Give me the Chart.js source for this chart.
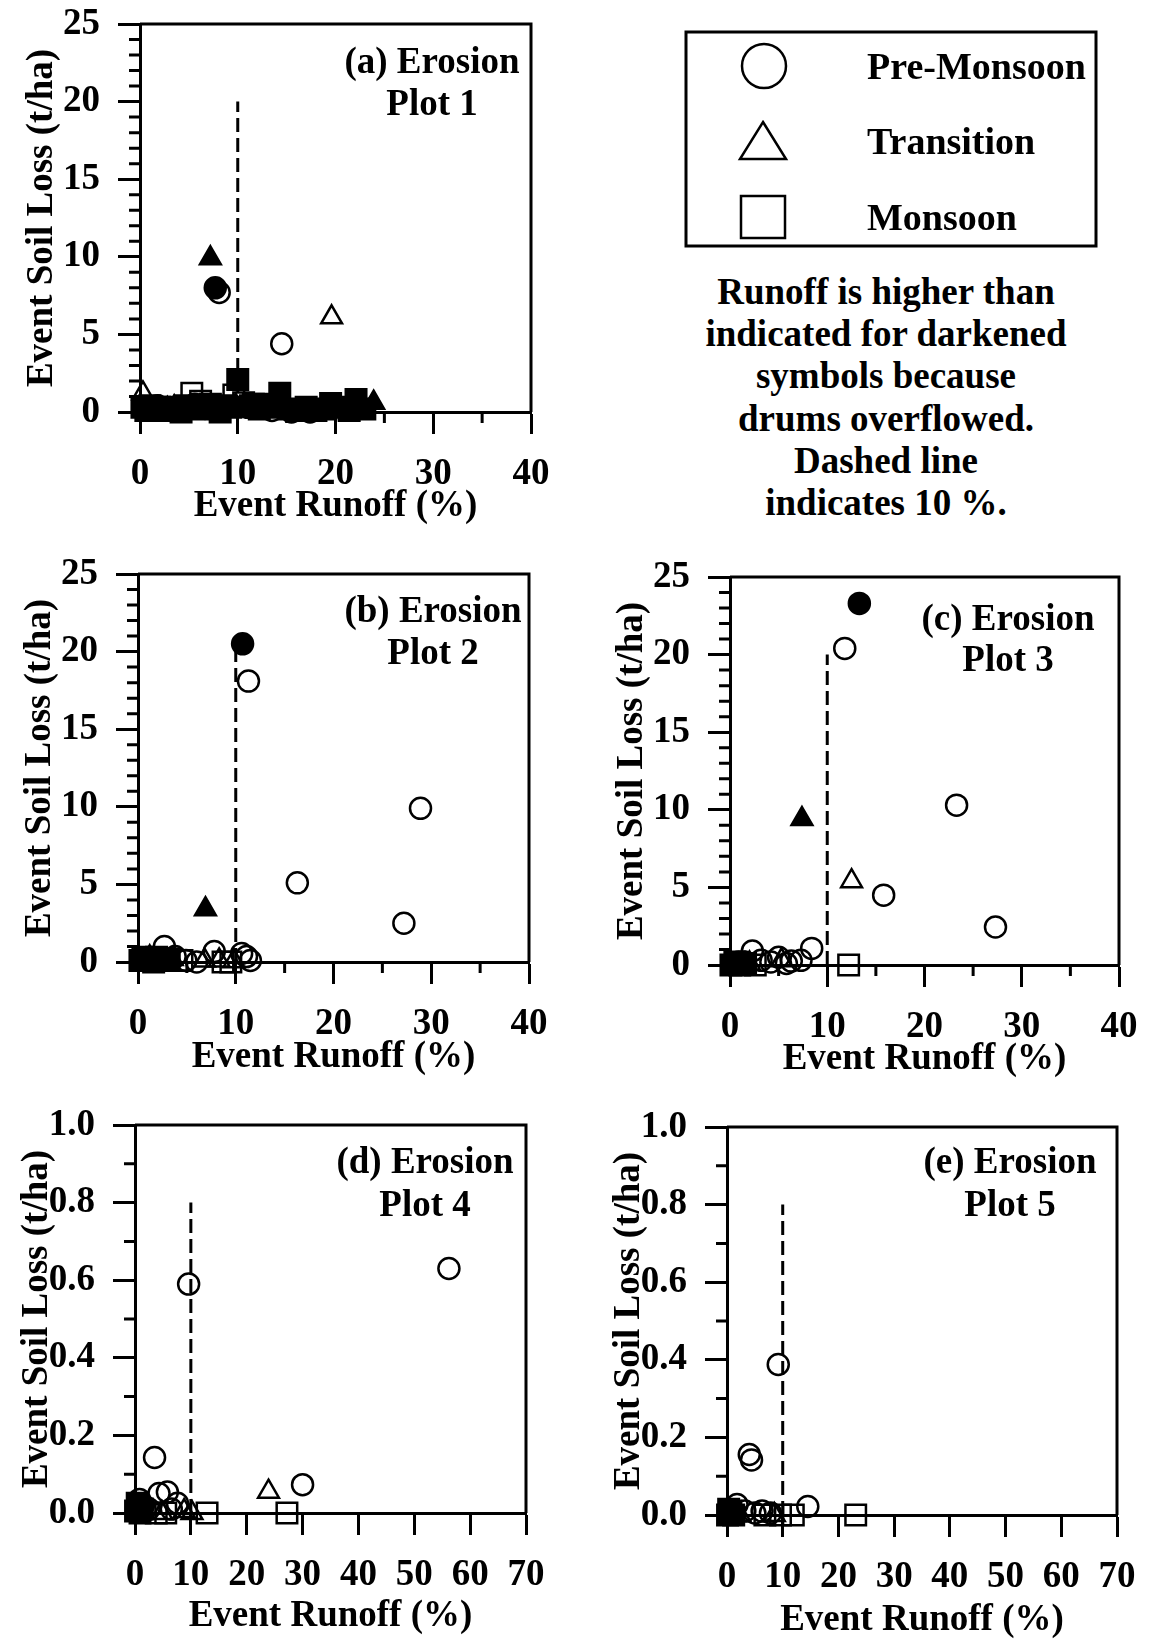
<!DOCTYPE html>
<html>
<head>
<meta charset="utf-8">
<title>Event soil loss vs event runoff</title>
<script src="https://cdn.jsdelivr.net/npm/chart.js@4.4.1/dist/chart.umd.min.js"></script>
<style>
  html, body { margin: 0; padding: 0; background: #fff; }
  body {
    position: relative; width: 1155px; height: 1640px; overflow: hidden;
    font-family: 'Liberation Serif', 'Times New Roman', serif; font-weight: bold; color: #000;
  }
  canvas { position: absolute; }
  .legend-text { position: absolute; left: 867px; font-size: 38px; line-height: 42px; white-space: nowrap; }
  #note {
    position: absolute; left: 686px; top: 271px; width: 400px;
    font-size: 37px; line-height: 42.2px; text-align: center; white-space: nowrap;
  }
</style>
</head>
<body>
<canvas id="plot1"></canvas>
<canvas id="plot2"></canvas>
<canvas id="plot3"></canvas>
<canvas id="plot4"></canvas>
<canvas id="plot5"></canvas>

<svg width="1155" height="260" style="position:absolute;left:0;top:0">
  <rect x="686" y="32" width="410" height="214" fill="none" stroke="#000" stroke-width="3"/>
  <circle cx="764" cy="66" r="22" fill="none" stroke="#000" stroke-width="2.5"/>
  <polygon points="763,122 786,159 740,159" fill="none" stroke="#000" stroke-width="2.5"/>
  <rect x="741" y="196" width="44" height="42" fill="none" stroke="#000" stroke-width="2.5"/>
</svg>
<div class="legend-text" style="top:45px">Pre-Monsoon</div>
<div class="legend-text" style="top:120px">Transition</div>
<div class="legend-text" style="top:196px">Monsoon</div>

<div id="note">Runoff is higher than<br>indicated for darkened<br>symbols because<br>drums overflowed.<br>Dashed line<br>indicates 10 %.</div>

<script>
// axis ticks
const soilMajorHigh = [0, 5, 10, 15, 20, 25];
const soilMinorHigh = [1, 2, 3, 4, 6, 7, 8, 9, 11, 12, 13, 14, 16, 17, 18, 19, 21, 22, 23, 24];
const soilMajorLow = [0, 0.2, 0.4, 0.6, 0.8, 1.0];
const soilMinorLow = [0.1, 0.3, 0.5, 0.7, 0.9];
const runoffMajorShort = [0, 10, 20, 30, 40];
const runoffMinorShort = [5, 15, 25, 35];
const runoffMajorLong = [0, 10, 20, 30, 40, 50, 60, 70];
const runoffMinorLong = [];

const thresholdRunoff = 10;
const dashTopHigh = 20;
const dashTopLow = 0.8;

// [runoff %, soil loss t/ha]; "Dark" = drums overflowed
const plot1PreOpen = [[14.5, 4.4], [8.1, 7.7], [0.5, 0.2], [1.8, 0.4], [5.6, 0.5], [11.0, 0.3], [13.5, 0.1], [15.5, 0.0], [17.4, 0.0]];
const plot1PreDark = [[7.7, 8.0]];
const plot1TransOpen = [[19.6, 6.1], [0.3, 1.2], [2.8, 0.2], [9.8, 0.4]];
const plot1TransDark = [[7.2, 9.9], [23.9, 0.6], [3.5, 0.3]];
const plot1MonOpen = [[5.3, 1.2], [6.2, 0.7], [9.6, 1.1], [10.6, 0.6], [11.6, 0.5], [16.2, 0.1], [16.9, 0.1], [7.2, 0.5]];
const plot1MonDark = [[10.0, 2.1], [14.3, 1.2], [22.1, 0.8], [19.5, 0.55], [0.2, 0.3], [0.6, 0.1], [1.0, 0.4], [1.5, 0.2],
  [2.0, 0.3], [2.6, 0.1], [3.2, 0.3], [3.9, 0.2], [4.6, 0.4], [5.5, 0.2], [6.3, 0.4], [7.0, 0.3], [7.8, 0.2], [8.6, 0.4],
  [9.3, 0.3], [11.3, 0.4], [12.2, 0.2], [13.0, 0.3], [15.2, 0.2], [16.0, 0.1], [18.0, 0.1], [20.6, 0.3], [21.4, 0.1], [23.0, 0.2],
  [4.2, 0.0], [8.2, 0.0], [12.6, 0.5], [17.0, 0.3], [19.0, 0.2]];

const plot2PreOpen = [[11.3, 18.1], [28.9, 9.9], [16.3, 5.1], [27.2, 2.5], [2.7, 1.0], [7.8, 0.67], [11.1, 0.35], [11.5, 0.1],
  [10.6, 0.55], [3.8, 0.35], [4.9, 0.1], [6.0, 0.0], [2.2, 0.2], [1.0, 0.1]];
const plot2PreDark = [[10.7, 20.5], [0.9, 0.2], [2.0, 0.1]];
const plot2TransOpen = [[8.3, 0.1], [9.8, 0.05], [3.5, 0.2], [6.8, 0.1]];
const plot2TransDark = [[6.9, 3.4], [1.2, 0.3]];
const plot2MonOpen = [[0.5, 0.3], [1.6, 0.0], [4.5, 0.1], [8.7, 0.0], [9.5, 0.0]];
const plot2MonDark = [[0.2, 0.1], [0.7, 0.2], [1.3, 0.1], [1.9, 0.3], [2.4, 0.1], [3.2, 0.2]];

const plot3PreOpen = [[11.8, 20.4], [23.3, 10.3], [15.8, 4.5], [27.3, 2.45], [8.4, 1.07], [2.3, 0.9], [5.0, 0.5], [6.3, 0.25],
  [7.3, 0.3], [3.2, 0.3], [1.5, 0.2], [4.2, 0.2], [5.8, 0.1]];
const plot3PreDark = [[13.3, 23.3], [0.3, 0.1], [0.9, 0.2]];
const plot3TransOpen = [[12.5, 5.4], [5.3, 0.3], [2.0, 0.1]];
const plot3TransDark = [[7.4, 9.4], [1.2, 0.1]];
const plot3MonOpen = [[12.2, 0.0], [0.6, 0.1], [2.6, 0.0]];
const plot3MonDark = [[0.1, 0.0], [0.5, 0.2], [1.0, 0.0], [1.6, 0.1]];

const plot4PreOpen = [[56.2, 0.63], [9.6, 0.59], [3.5, 0.143], [30.0, 0.073], [4.3, 0.05], [5.8, 0.054], [7.6, 0.025],
  [0.8, 0.035], [1.5, 0.02], [6.5, 0.01], [2.5, 0.01]];
const plot4PreDark = [[0.3, 0.01], [0.6, 0.02]];
const plot4TransOpen = [[23.9, 0.055], [8.8, 0.005], [10.2, 0.0], [4.8, 0.0]];
const plot4TransDark = [[0.5, 0.0]];
const plot4MonOpen = [[27.2, 0.0], [12.9, 0.0], [3.8, 0.0], [5.5, 0.0]];
const plot4MonDark = [[0.1, 0.005], [0.9, 0.0], [1.3, 0.01], [0.4, 0.025]];

const plot5PreOpen = [[9.2, 0.388], [4.0, 0.156], [4.4, 0.142], [14.5, 0.022], [1.8, 0.027], [3.2, 0.01], [6.3, 0.01],
  [7.8, 0.005], [5.0, 0.005]];
const plot5PreDark = [[0.4, 0.01]];
const plot5TransOpen = [[2.3, 0.0], [8.5, 0.0]];
const plot5TransDark = [];
const plot5MonOpen = [[23.1, 0.0], [11.9, 0.0], [9.6, 0.0], [6.8, 0.0]];
const plot5MonDark = [[0.1, 0.0], [0.7, 0.01], [1.2, 0.0], [0.3, 0.015]];

const FONT = { family: "'Liberation Serif', 'Times New Roman', serif", weight: 'bold', size: 37 };
const MARKER_R = { circle: 10.5, triangle: 12, rect: 14.5 };
const Y_AXIS_W = 140;
const X_AXIS_H = 140;
const PAD_TOP = 44;
const PAD_RIGHT = 42;
const MAJOR_TICK = 22;
const MINOR_TICK = 11;

// box outline on top/right plus the short unlabelled ticks
const frameTicks = {
  id: 'frameTicks',
  afterDraw(chart, args, opts) {
    const { ctx, chartArea: { left, top, right, bottom }, scales: { x, y } } = chart;
    ctx.save();
    ctx.strokeStyle = '#000';
    ctx.lineWidth = 3;
    ctx.beginPath();
    ctx.moveTo(left, top);
    ctx.lineTo(right, top);
    ctx.lineTo(right, bottom);
    x.ticks.forEach(t => {
      if (opts.xMajor.includes(t.value)) return;
      const px = x.getPixelForValue(t.value);
      ctx.moveTo(px, bottom);
      ctx.lineTo(px, bottom + MINOR_TICK);
    });
    y.ticks.forEach(t => {
      if (opts.yMajor.includes(t.value)) return;
      const py = y.getPixelForValue(t.value);
      ctx.moveTo(left, py);
      ctx.lineTo(left - MINOR_TICK, py);
    });
    ctx.stroke();
    ctx.restore();
  }
};

const panelLabel = {
  id: 'panelLabel',
  afterDraw(chart, args, opts) {
    const { ctx, chartArea } = chart;
    ctx.save();
    ctx.font = `bold ${FONT.size}px ${FONT.family}`;
    ctx.fillStyle = '#000';
    ctx.textAlign = 'center';
    ctx.textBaseline = 'middle';
    opts.lines.forEach((line, i) => {
      ctx.fillText(line, chartArea.right - opts.dx, chartArea.top + opts.dy[i]);
    });
    ctx.restore();
  }
};

function markers(points, shape, dark) {
  return {
    data: points.map(([x, y]) => ({ x, y })),
    pointStyle: shape,
    pointRadius: MARKER_R[shape],
    pointHoverRadius: MARKER_R[shape],
    pointBorderWidth: 2.5,
    pointBorderColor: '#000',
    pointBackgroundColor: dark ? '#000' : 'rgba(0,0,0,0)',
    clip: false
  };
}

function axis(major, minor, min, max, fmt, titleText, titlePad, tickPad, sizeFn) {
  return {
    type: 'linear',
    min, max,
    afterBuildTicks: s => { s.ticks = [...major, ...minor].sort((a, b) => a - b).map(v => ({ value: v })); },
    afterFit: sizeFn,
    ticks: {
      autoSkip: false, maxRotation: 0, padding: tickPad, color: '#000', font: FONT,
      callback: v => major.includes(v) ? fmt(v) : ''
    },
    grid: {
      display: true, drawOnChartArea: false, drawTicks: true,
      tickLength: MAJOR_TICK, tickWidth: 3,
      tickColor: c => (c.tick && major.includes(c.tick.value)) ? '#000' : 'rgba(0,0,0,0)'
    },
    border: { display: true, color: '#000', width: 3 },
    title: { display: true, text: titleText, color: '#000', font: FONT, padding: titlePad }
  };
}

function drawPanel(p) {
  const canvas = document.getElementById(p.id);
  const [L, T, R, B] = p.frame;
  const w = R - L + Y_AXIS_W + PAD_RIGHT;
  const h = B - T + PAD_TOP + X_AXIS_H;
  canvas.width = w;
  canvas.height = h;
  canvas.style.left = (L - Y_AXIS_W) + 'px';
  canvas.style.top = (T - PAD_TOP) + 'px';

  const high = p.yMax > 1;
  const yMajor = high ? soilMajorHigh : soilMajorLow;
  const yMinor = high ? soilMinorHigh : soilMinorLow;
  const xMajor = p.xMax > 40 ? runoffMajorLong : runoffMajorShort;
  const xMinor = p.xMax > 40 ? runoffMinorLong : runoffMinorShort;
  const lh = FONT.size * 1.2;

  new Chart(canvas, {
    type: 'scatter',
    data: {
      datasets: [
        markers(p.series.preDark, 'circle', true),
        markers(p.series.preOpen, 'circle', false),
        markers(p.series.transDark, 'triangle', true),
        markers(p.series.transOpen, 'triangle', false),
        markers(p.series.monDark, 'rect', true),
        markers(p.series.monOpen, 'rect', false),
        {
          data: [{ x: thresholdRunoff, y: 0 }, { x: thresholdRunoff, y: high ? dashTopHigh : dashTopLow }],
          showLine: true, borderColor: '#000', borderWidth: 3, borderDash: [14, 6],
          pointRadius: 0, pointHoverRadius: 0, fill: false, clip: false
        }
      ]
    },
    options: {
      responsive: false,
      animation: false,
      layout: { padding: { left: 0, top: PAD_TOP, right: PAD_RIGHT, bottom: 0 } },
      plugins: {
        legend: { display: false },
        tooltip: { enabled: false },
        frameTicks: { xMajor, yMajor },
        panelLabel: p.label
      },
      scales: {
        x: axis(xMajor, xMinor, 0, p.xMax, v => String(v), 'Event Runoff (%)',
          { top: 0, bottom: X_AXIS_H - lh / 2 - p.xTitleOffset }, 62 - MAJOR_TICK - lh / 2,
          s => { s.height = X_AXIS_H; }),
        y: axis(yMajor, yMinor, 0, p.yMax, high ? (v => String(v)) : (v => v.toFixed(1)), 'Event Soil Loss (t/ha)',
          { top: Y_AXIS_W - 98 - lh / 2, bottom: 0 }, 18,
          s => { s.width = Y_AXIS_W; })
      }
    },
    plugins: [frameTicks, panelLabel]
  });
}

const panels = [
  { id: 'plot1', frame: [140, 24, 531, 412], xMax: 40, yMax: 25, xTitleOffset: 94,
    label: { lines: ['(a) Erosion', 'Plot 1'], dx: 99, dy: [39, 81] },
    series: { preOpen: plot1PreOpen, preDark: plot1PreDark, transOpen: plot1TransOpen, transDark: plot1TransDark, monOpen: plot1MonOpen, monDark: plot1MonDark } },
  { id: 'plot2', frame: [138, 574, 529, 962], xMax: 40, yMax: 25, xTitleOffset: 95,
    label: { lines: ['(b) Erosion', 'Plot 2'], dx: 96, dy: [38, 80] },
    series: { preOpen: plot2PreOpen, preDark: plot2PreDark, transOpen: plot2TransOpen, transDark: plot2TransDark, monOpen: plot2MonOpen, monDark: plot2MonDark } },
  { id: 'plot3', frame: [730, 577, 1119, 965], xMax: 40, yMax: 25, xTitleOffset: 94,
    label: { lines: ['(c) Erosion', 'Plot 3'], dx: 111, dy: [43, 84] },
    series: { preOpen: plot3PreOpen, preDark: plot3PreDark, transOpen: plot3TransOpen, transDark: plot3TransDark, monOpen: plot3MonOpen, monDark: plot3MonDark } },
  { id: 'plot4', frame: [135, 1125, 526, 1513], xMax: 70, yMax: 1.0, xTitleOffset: 103,
    label: { lines: ['(d) Erosion', 'Plot 4'], dx: 101, dy: [38, 81] },
    series: { preOpen: plot4PreOpen, preDark: plot4PreDark, transOpen: plot4TransOpen, transDark: plot4TransDark, monOpen: plot4MonOpen, monDark: plot4MonDark } },
  { id: 'plot5', frame: [727, 1127, 1117, 1515], xMax: 70, yMax: 1.0, xTitleOffset: 105,
    label: { lines: ['(e) Erosion', 'Plot 5'], dx: 107, dy: [36, 79] },
    series: { preOpen: plot5PreOpen, preDark: plot5PreDark, transOpen: plot5TransOpen, transDark: plot5TransDark, monOpen: plot5MonOpen, monDark: plot5MonDark } }
];

panels.forEach(drawPanel);
</script>
</body>
</html>
